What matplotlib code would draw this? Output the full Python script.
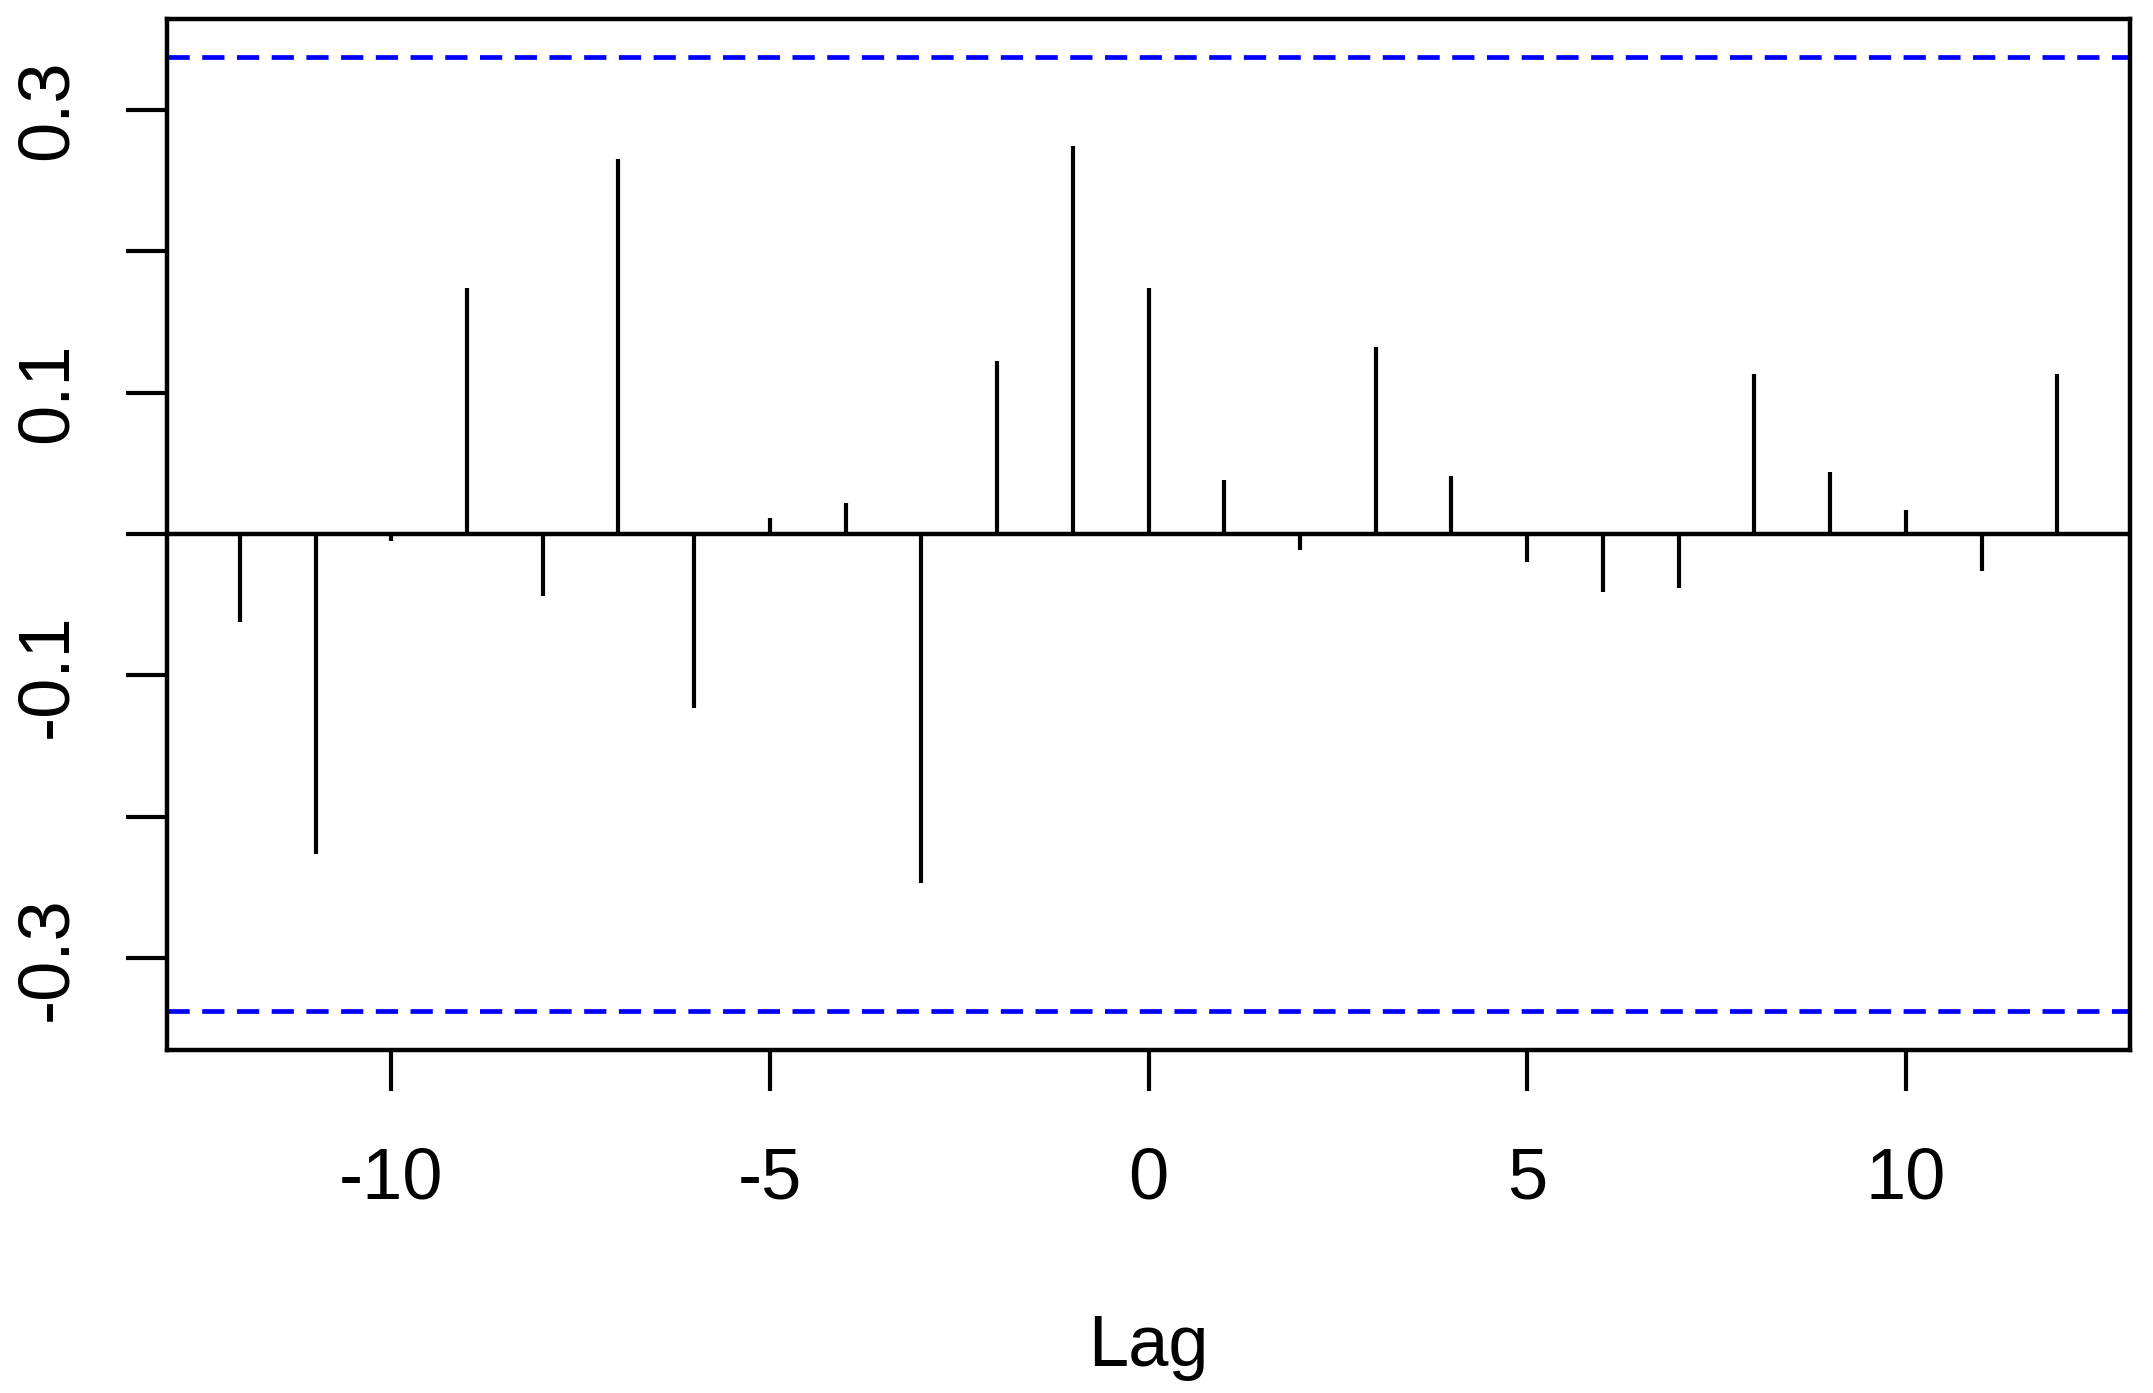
import matplotlib.pyplot as plt

plt.rcParams['font.family'] = ['Liberation Sans', 'DejaVu Sans']
plt.rcParams['lines.scale_dashes'] = False

# cross-correlation values by lag
lags = list(range(-12, 13))
ccf = [-0.062, -0.226, -0.005, 0.174, -0.044, 0.265, -0.123, 0.011, 0.022, -0.247,
       0.122, 0.274, 0.174, 0.038, -0.011, 0.132, 0.041, -0.020, -0.041, -0.038,
       0.113, 0.044, 0.017, -0.026, 0.113]
conf = 0.337
yticks = [-0.3, -0.2, -0.1, 0.0, 0.1, 0.2, 0.3]
ylabels = ['-0.3', '', '-0.1', '', '0.1', '', '0.3']
xticks = [-10, -5, 0, 5, 10]

fig = plt.figure(figsize=(21.53, 13.93), dpi=100)
ax = fig.add_axes([0.0776, 0.2462, 0.9117, 0.7402])

ax.vlines(lags, 0, ccf, color='black', linewidth=3)
ax.axhline(0, color='black', linewidth=3.2)
ax.axhline(conf, color='#0000ff', linewidth=3.4, dashes=(16, 9))
ax.axhline(-conf, color='#0000ff', linewidth=3.4, dashes=(16, 9))

ax.set_xlim(-12.96, 12.96)
ax.set_ylim(-0.3647, 0.364)
ax.set_xticks(xticks)
ax.set_xticklabels([str(v) for v in xticks])
ax.set_yticks(yticks)
ax.set_yticklabels(ylabels, rotation=90, va='center')

for s in ax.spines.values():
    s.set_linewidth(3.2)
ax.tick_params(axis='both', length=29.5, width=3, labelsize=52, direction='out')
ax.tick_params(axis='x', pad=40)
ax.tick_params(axis='y', pad=32)

ax.set_xlabel('Lag', fontsize=52, labelpad=72)

fig.savefig('out.png', dpi=100)
